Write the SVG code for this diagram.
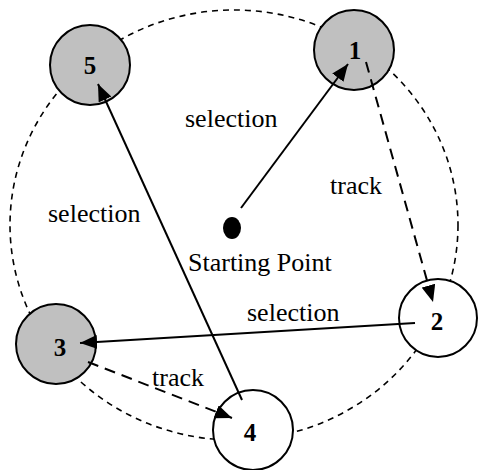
<svg xmlns="http://www.w3.org/2000/svg" width="478" height="470" viewBox="0 0 478 470">
<style>
.ring{fill:none;stroke:#000;stroke-width:1.6;stroke-dasharray:6 5}
.node{stroke:#000;stroke-width:2}
.grey{fill:#c0c0c0}
.white{fill:#fff}
.num{font-weight:bold;font-size:25px;text-anchor:middle;fill:#000}
.lbl{font-size:26px;fill:#000}
.edge{stroke:#000;stroke-width:2;fill:none}
.dash{stroke-dasharray:11 7}
</style>
<defs>
<marker id="ah" markerUnits="userSpaceOnUse" markerWidth="18" markerHeight="14" refX="17" refY="7" orient="auto">
<path d="M0,0 L17,7 L0,14 Z" fill="#000"/>
</marker>
</defs>
<ellipse class="ring" cx="234" cy="225" rx="224" ry="215"/>
<g font-family="'Liberation Serif', 'Times New Roman', 'DejaVu Serif', serif">
<g id="n5"><circle class="node grey" cx="90" cy="65" r="40"/><text class="num" x="90" y="74">5</text></g>
<g id="n1"><circle class="node grey" cx="354" cy="50" r="40"/><text class="num" x="355" y="59">1</text></g>
<g id="n2"><circle class="node white" cx="438" cy="318" r="39"/><text class="num" x="437" y="330">2</text></g>
<g id="n3"><circle class="node grey" cx="56" cy="344" r="40"/><text class="num" x="60" y="356">3</text></g>
<g id="n4"><circle class="node white" cx="253" cy="430" r="40"/><text class="num" x="250" y="441">4</text></g>
<g id="start"><ellipse cx="232" cy="228" rx="9" ry="11" fill="#000"/></g>
<g id="edges">
<line class="edge" x1="241" y1="208" x2="348" y2="64" marker-end="url(#ah)"/>
<line class="edge dash" x1="366" y1="62" x2="433" y2="302" marker-end="url(#ah)"/>
<line class="edge" x1="415" y1="323" x2="80" y2="343" marker-end="url(#ah)"/>
<line class="edge dash" x1="88" y1="362" x2="232" y2="418" marker-end="url(#ah)"/>
<line class="edge" x1="242" y1="400" x2="98" y2="84" marker-end="url(#ah)"/>
</g>
<g id="labels">
<text class="lbl" x="185" y="127">selection</text>
<text class="lbl" x="330" y="194">track</text>
<text class="lbl" x="48" y="222">selection</text>
<text class="lbl" x="188" y="271">Starting Point</text>
<text class="lbl" x="247" y="321">selection</text>
<text class="lbl" x="152" y="386">track</text>
</g>
</g>
</svg>
